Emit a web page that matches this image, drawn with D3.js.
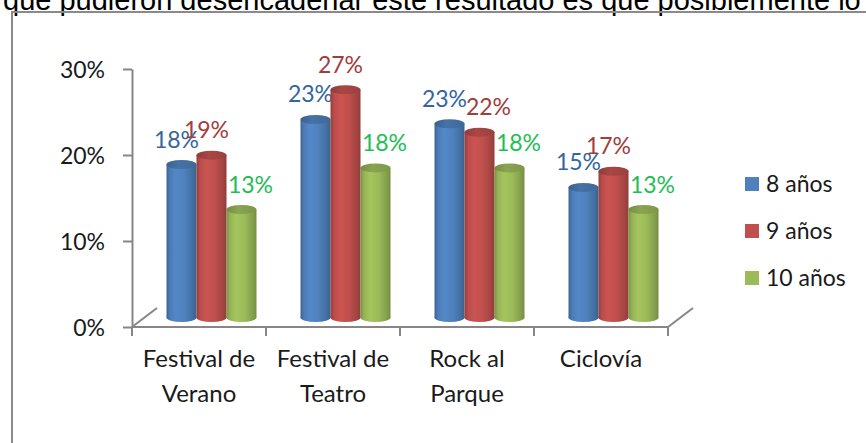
<!DOCTYPE html>
<html>
<head>
<meta charset="utf-8">
<script src="https://cdn.jsdelivr.net/npm/d3@7"></script>
<style>
  html, body { margin: 0; padding: 0; background: #fff; overflow: hidden; }
  text { font-family: Lato, "Open Sans", sans-serif; }
</style>
</head>
<body>
<div id="chart"></div>
<script>
// datos
const categories = [["Festival de", "Verano"], ["Festival de", "Teatro"], ["Rock al", "Parque"], ["Ciclovía"]];
const series = ["8 años", "9 años", "10 años"];
const values8 = [0.180, 0.233, 0.228, 0.153];
const values9 = [0.191, 0.268, 0.218, 0.172];
const values10 = [0.127, 0.176, 0.176, 0.127];
const yTicks = [0, 0.1, 0.2, 0.3];
const topText = "que pudieron desencadenar este resultado es que posiblemente lo";

const colors = ["#4F81BD", "#C0504D", "#9BBB59"];
const labelColors = ["#34659F", "#A33C3A", "#1DBE55"];

const width = 866, height = 443;
const catKeys = categories.map(c => c.join(" "));
const table = catKeys.map((k, i) => ({ cat: k, vals: [values8[i], values9[i], values10[i]] }));

const svg = d3.select("#chart").append("svg")
    .attr("width", width)
    .attr("height", height);

svg.append("rect").attr("width", width).attr("height", height).attr("fill", "#fff");

// texto del documento, cortado arriba
svg.append("text")
    .attr("x", 3)
    .attr("y", 10)
    .style("font-family", "'Liberation Sans', Arial, sans-serif")
    .style("font-size", "29px")
    .attr("fill", "#000")
    .text(topText);

// marco
svg.append("rect")
    .attr("x", 12).attr("y", 12)
    .attr("width", 900).attr("height", 500)
    .attr("fill", "none")
    .attr("stroke", "#8a8a8a")
    .attr("stroke-width", 2);

// escalas
const x = d3.scaleBand().domain(catKeys).range([132, 668]).padding(0);
const y = d3.scaleLinear().domain([0, 0.3]).range([327, 69]);
const depth = { dx: 25, dy: -19 };
// barras a media profundidad
const yb = d3.scaleLinear().domain([0, 0.3]).range([327 + depth.dy / 2, 327 + depth.dy / 2 - 255]);
const xi = d3.scaleBand().domain(series).range([22, 112]).padding(0);

const axisColor = "#868686";

// piso (diagonales)
[x.range()[0], x.range()[1]].forEach(px => {
    svg.append("line")
        .attr("x1", px).attr("y1", y(0))
        .attr("x2", px + depth.dx).attr("y2", y(0) + depth.dy)
        .attr("stroke", axisColor).attr("stroke-width", 2);
});

// eje Y
const yAxis = svg.append("g")
    .attr("transform", `translate(${x.range()[0]},0)`)
    .call(d3.axisLeft(y).tickValues(yTicks).tickFormat(d3.format(".0%")).tickSize(9).tickPadding(18).tickSizeOuter(0));
yAxis.select(".domain").attr("stroke", axisColor).attr("stroke-width", 2);
yAxis.selectAll(".tick line").attr("stroke", axisColor).attr("stroke-width", 2);
yAxis.selectAll(".tick text")
    .style("font-size", "23px")
    .attr("fill", "#1a1a1a")
    .attr("dy", "0.36em");

// eje X
svg.append("line")
    .attr("x1", x.range()[0]).attr("x2", x.range()[1])
    .attr("y1", y(0)).attr("y2", y(0))
    .attr("stroke", axisColor).attr("stroke-width", 2);
const bounds = catKeys.map(k => x(k)).concat([x.range()[1]]);
svg.selectAll(".xtick")
    .data(bounds)
    .enter().append("line")
    .attr("class", "xtick")
    .attr("x1", d => d).attr("x2", d => d)
    .attr("y1", y(0)).attr("y2", y(0) + 9)
    .attr("stroke", axisColor).attr("stroke-width", 2);

const catLabels = svg.selectAll(".cat")
    .data(categories)
    .enter().append("text")
    .attr("class", "cat")
    .attr("text-anchor", "middle")
    .attr("x", (d, i) => x(catKeys[i]) + x.bandwidth() / 2)
    .attr("y", 367)
    .style("font-size", "24px")
    .attr("fill", "#1a1a1a");
catLabels.selectAll("tspan")
    .data(d => d)
    .enter().append("tspan")
    .attr("x", function () { return d3.select(this.parentNode).attr("x"); })
    .attr("dy", (d, i) => i === 0 ? 0 : 35)
    .text(d => d);

// degradados de cilindro
const defs = svg.append("defs");
colors.forEach((c, i) => {
    const base = d3.color(c);
    const g = defs.append("linearGradient").attr("id", "cyl" + i).attr("x1", 0).attr("x2", 1).attr("y1", 0).attr("y2", 0);
    [[0, base.darker(0.7)], [0.12, base.darker(0.1)], [0.32, base.brighter(0.15)], [0.6, base], [0.88, base.darker(0.45)], [1, base.darker(0.8)]]
        .forEach(([o, col]) => g.append("stop").attr("offset", o).attr("stop-color", col));
    const t = defs.append("linearGradient").attr("id", "top" + i).attr("x1", 0).attr("x2", 1).attr("y1", 0).attr("y2", 0);
    [[0, base.darker(0.8)], [0.4, base.darker(0.35)], [1, base.darker(0.6)]]
        .forEach(([o, col]) => t.append("stop").attr("offset", o).attr("stop-color", col));
});

// barras cilíndricas
const rx = xi.bandwidth() / 2, ry = 4.5;
const groups = svg.selectAll(".grp")
    .data(table)
    .enter().append("g")
    .attr("class", "grp")
    .attr("transform", d => `translate(${x(d.cat) + depth.dx / 2},0)`);

const bars = groups.selectAll(".bar")
    .data(d => d.vals.map((v, i) => ({ cat: d.cat, s: i, v })))
    .enter().append("g")
    .attr("class", "bar");

bars.append("ellipse")
    .attr("cx", d => xi(series[d.s]) + rx)
    .attr("cy", yb(0))
    .attr("rx", rx).attr("ry", ry)
    .attr("fill", d => `url(#cyl${d.s})`);
bars.append("rect")
    .attr("x", d => xi(series[d.s]))
    .attr("y", d => yb(d.v))
    .attr("width", xi.bandwidth())
    .attr("height", d => yb(0) - yb(d.v))
    .attr("fill", d => `url(#cyl${d.s})`);
bars.append("ellipse")
    .attr("cx", d => xi(series[d.s]) + rx)
    .attr("cy", d => yb(d.v))
    .attr("rx", rx).attr("ry", ry)
    .attr("fill", d => `url(#top${d.s})`);

// etiquetas de datos
const labelDx = [-5, -5, 9];
const nudge = { "Rock al Parque|1": 14 };
bars.append("text")
    .attr("text-anchor", "middle")
    .attr("x", d => xi(series[d.s]) + rx + labelDx[d.s] + (nudge[d.cat + "|" + d.s] || 0))
    .attr("y", d => yb(d.v) - 17)
    .style("font-size", "23px")
    .attr("fill", d => labelColors[d.s])
    .text(d => d3.format(".0%")(d.v));

// leyenda
const legend = svg.selectAll(".leg")
    .data(series)
    .enter().append("g")
    .attr("class", "leg")
    .attr("transform", (d, i) => `translate(745,${184 + i * 47})`);
legend.append("rect")
    .attr("x", 0).attr("y", -7)
    .attr("width", 14).attr("height", 14)
    .attr("fill", (d, i) => colors[i]);
legend.append("text")
    .attr("x", 21).attr("y", 0)
    .attr("dy", "0.36em")
    .style("font-size", "23px")
    .attr("fill", "#1a1a1a")
    .text(d => d);
</script>
</body>
</html>
